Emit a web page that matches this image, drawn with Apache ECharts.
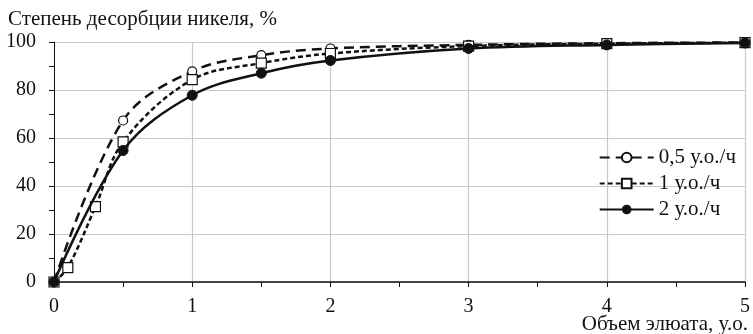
<!DOCTYPE html>
<html><head><meta charset="utf-8">
<script src="https://cdn.jsdelivr.net/npm/echarts@6/dist/echarts.min.js"></script>
<style>html,body{margin:0;padding:0;background:#fff}#c{width:753px;height:334px}</style>
</head><body><div id="c"></div>
<script>
var seriesNames = ['0,5 у.о./ч', '1 у.о./ч', '2 у.о./ч'];
var x05 = [0, 0.5, 1, 1.5, 2, 3, 4, 5];
var y05 = [0, 67.3, 87.8, 94.5, 97.3, 98.8, 99.5, 99.8];
var x1 = [0, 0.1, 0.3, 0.5, 1, 1.5, 2, 3, 4, 5];
var y1 = [0, 6.0, 31.4, 58.4, 84.3, 91.2, 95.2, 98.3, 99.3, 99.7];
var x2 = [0, 0.5, 1, 1.5, 2, 3, 4, 5];
var y2 = [0, 54.8, 77.8, 87.0, 92.3, 97.3, 98.8, 99.6];
var yTicks = [0, 20, 40, 60, 80, 100];
var xTicks = [0, 1, 2, 3, 4, 5];
var titleY = 'Степень десорбции никеля, %';
var titleX = 'Объем элюата, у.о.';

function pairs(xs, ys) { return xs.map(function (v, i) { return [v, ys[i]]; }); }
var font = '"Liberation Serif", "DejaVu Serif", serif';
var chart = echarts.init(document.getElementById('c'));
chart.setOption({
  backgroundColor: '#fff',
  animation: false,
  title: [
    { text: titleY, left: 3, top: 4, textStyle: { fontFamily: font, fontSize: 21, fontWeight: 'normal', color: '#111' } },
    { text: titleX, right: 0, top: 309, textStyle: { fontFamily: font, fontSize: 21, fontWeight: 'normal', color: '#111' } }
  ],
  grid: { left: 54, right: 8, top: 42, bottom: 52 },
  legend: {
    orient: 'vertical', right: 12, top: 142, itemWidth: 54, itemHeight: 12, itemGap: 5,
    textStyle: { fontFamily: font, fontSize: 21, color: '#111' },
    data: seriesNames
  },
  xAxis: {
    type: 'value', min: xTicks[0], max: xTicks[xTicks.length - 1], interval: 1,
    axisLine: { lineStyle: { color: '#111', width: 1.5 } },
    axisTick: { show: true, length: 5, lineStyle: { color: '#111' } },
    minorTick: { show: true, splitNumber: 2, length: 5, lineStyle: { color: '#111' } },
    axisLabel: { fontFamily: font, fontSize: 20, color: '#111', margin: 15 },
    splitLine: { show: true, lineStyle: { color: '#c8c8c8', width: 1.2 } }
  },
  yAxis: {
    type: 'value', min: yTicks[0], max: yTicks[yTicks.length - 1], interval: 20,
    axisLine: { show: true, lineStyle: { color: '#111', width: 1 } },
    axisTick: { show: true, length: 5, lineStyle: { color: '#111' } },
    minorTick: { show: true, splitNumber: 2, length: 5, lineStyle: { color: '#111' } },
    axisLabel: { fontFamily: font, fontSize: 20, color: '#111', margin: 18 },
    splitLine: { show: true, lineStyle: { color: '#c8c8c8', width: 1.2 } }
  },
  series: [
    { name: seriesNames[0], type: 'line', smooth: 0.35, data: pairs(x05, y05),
      symbol: 'circle', symbolSize: 9, color: '#111',
      itemStyle: { color: '#fff', borderColor: '#111', borderWidth: 1.2 },
      lineStyle: { color: '#111', width: 2.5, type: [10, 6] }, z: 3 },
    { name: seriesNames[1], type: 'line', smooth: 0.35, data: pairs(x1, y1),
      symbol: 'rect', symbolSize: 10, color: '#111',
      itemStyle: { color: '#fff', borderColor: '#111', borderWidth: 1.2 },
      lineStyle: { color: '#111', width: 2.5, type: [5, 3] }, z: 4 },
    { name: seriesNames[2], type: 'line', smooth: 0.35, data: pairs(x2, y2),
      symbol: 'circle', symbolSize: 10, color: '#111',
      itemStyle: { color: '#111', borderColor: '#111' },
      lineStyle: { color: '#111', width: 2.5 }, z: 5 }
  ]
});
</script></body></html>
